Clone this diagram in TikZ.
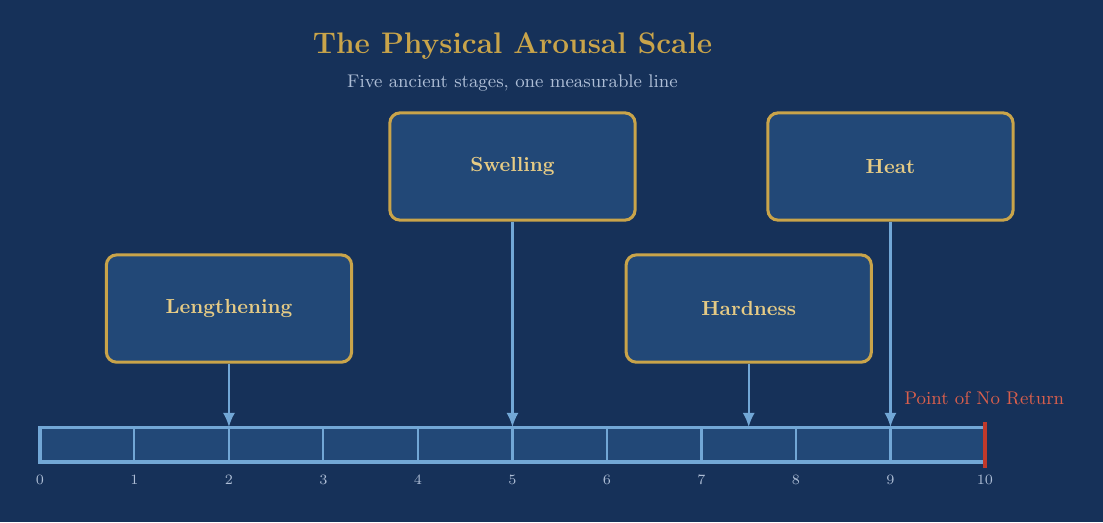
\documentclass[tikz,border=0pt]{standalone}
\usepackage{tikz}
\usetikzlibrary{arrows.meta}
\definecolor{night}{HTML}{163159}
\definecolor{panel}{HTML}{224877}
\definecolor{gold}{HTML}{C9A44A}
\definecolor{paleg}{HTML}{E6CB85}
\definecolor{sky}{HTML}{72A7D6}
\definecolor{mist}{HTML}{AEBED6}
\definecolor{ember}{HTML}{C0392B}
\definecolor{emberlt}{HTML}{DA5F4C}
\tikzstyle{stage}=[draw=gold, fill=panel, line width=1.5pt, rounded corners=5pt, minimum width=4.23cm, minimum height=1.85cm, text=paleg, font=\bfseries]
\tikzstyle{feed}=[draw=sky, line width=1.1pt, -{Latex[length=7pt,width=6pt]}]
\tikzstyle{tick}=[text=mist, font=\scriptsize, inner sep=0pt]

\begin{document}
\begin{tikzpicture}[x=1.63cm, y=1.63cm]
        \fill[night] (-0.423, -0.635) rectangle (11.249, 4.889);
        \useasboundingbox (-0.423, -0.635) rectangle (11.249, 4.889);
        \node[text=gold, font=\fontsize{14.6}{17}\bfseries] (title) at (5, 4.402) {The Physical Arousal Scale};
        \node[text=mist, font=\small] (sub) at (5, 4.011) {Five ancient stages, one measurable line};
        \node[stage] (L) at (2, 1.624) {Lengthening};
        \node[stage] (S) at (5, 3.127) {Swelling};
        \node[stage] (H) at (7.5, 1.624) {Hardness};
        \node[stage] (T) at (9, 3.127) {Heat};
        \draw[sky, fill=panel, line width=1.5pt] (0, 0) rectangle (10, 0.37);
        \foreach \i in {1,...,9}
            \draw[sky, line width=1pt] (\i, 0) -- (\i, 0.37);
        \foreach \i in {0,...,10}
            \node[tick] (n\i) at (\i, -0.19) {\i};
        \coordinate (pL) at (2, 0.37);
        \coordinate (pS) at (5, 0.37);
        \coordinate (pH) at (7.5, 0.37);
        \coordinate (pT) at (9, 0.37);
        \draw[feed] (L.south) -- (pL);
        \draw[feed] (S.south) -- (pS);
        \draw[feed] (H.south) -- (pH);
        \draw[feed] (T.south) -- (pT);
        \coordinate (r0) at (10, -0.063);
        \coordinate (r1) at (10, 0.423);
        \draw[ember, line width=2pt] (r0) -- (r1);
        \node[text=emberlt, font=\small, anchor=west, inner sep=0pt] (pnr) at (9.143, 0.677) {Point of No Return};
    \end{tikzpicture}
\end{document}
